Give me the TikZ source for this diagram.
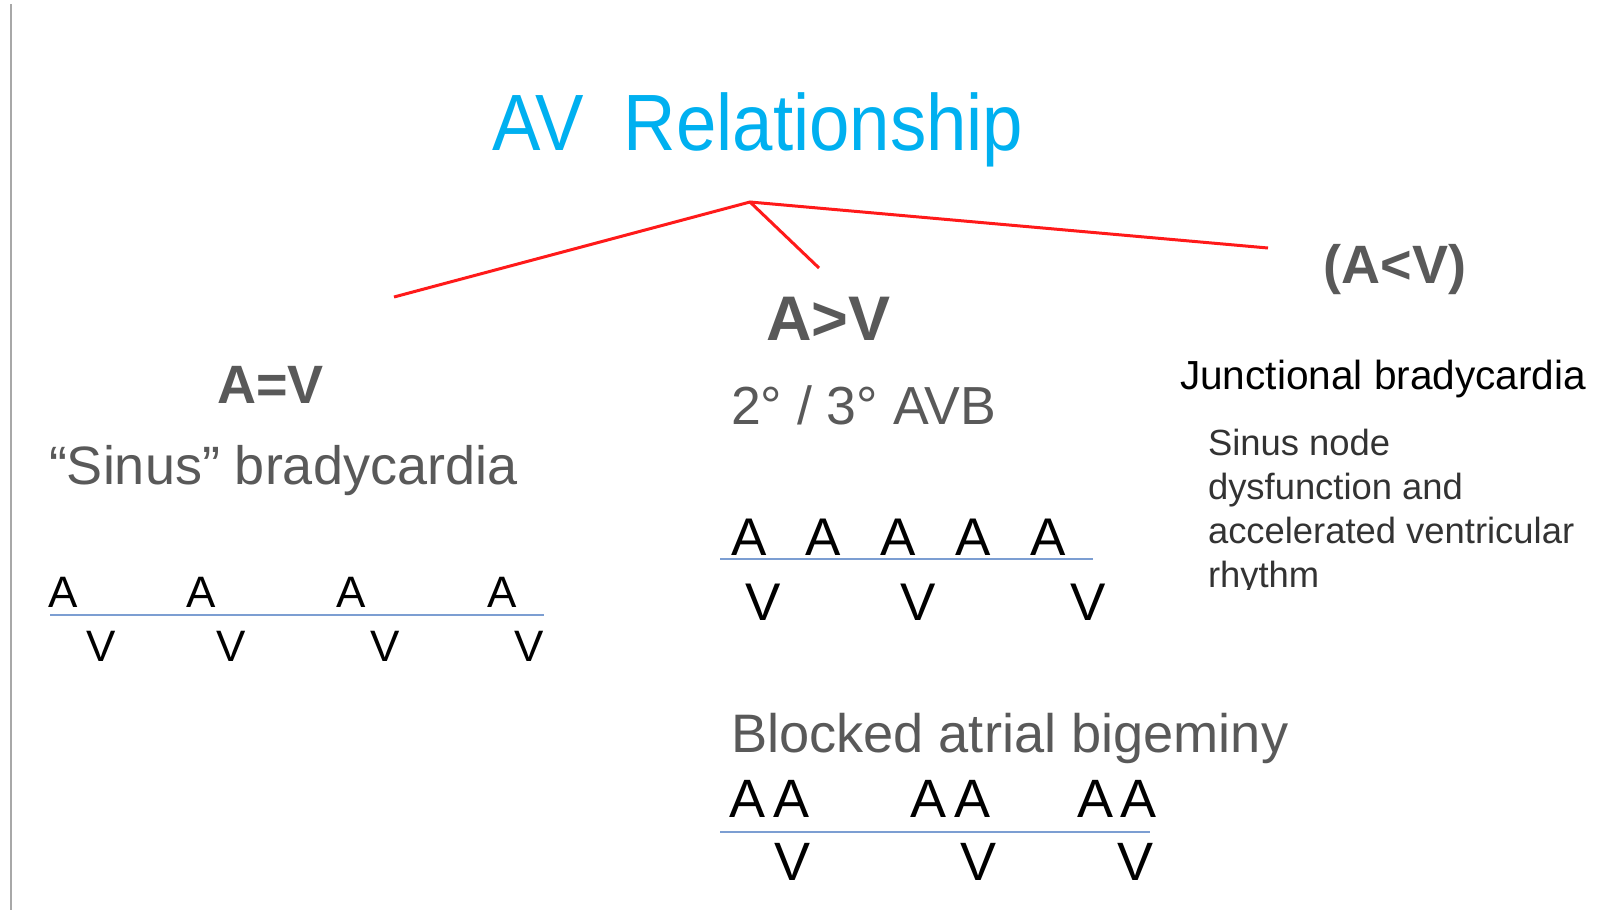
\documentclass[tikz,border=0pt]{standalone}
\usepackage{fontspec}
\setmainfont{Liberation Sans}
\definecolor{titleblue}{HTML}{00B0F0}
\definecolor{textgray}{HTML}{595959}
\definecolor{notegray}{HTML}{333333}
\definecolor{axisblue}{HTML}{7C9ED2}
\definecolor{treered}{HTML}{FF1A1A}
\definecolor{framegray}{HTML}{A8A8A8}
\tikzset{
  lbl/.style={inner sep=0pt, outer sep=0pt},
  heading/.style={lbl, anchor=base, text=textgray, font=\bfseries\fontsize{27pt}{31pt}\selectfont},
  rhythmname/.style={lbl, anchor=base west, text=textgray},
  beat/.style={lbl, anchor=base, text=black},
  branch/.style={draw=treered, line width=1.5pt},
  axis/.style={draw=axisblue, line width=1pt}
}
\begin{document}
\begin{tikzpicture}[x=0.5pt, y=-0.5pt]
\useasboundingbox (0,0) rectangle (1623,910);
\fill[white] (0,0) rectangle (1623,910);
% left frame edge
\draw[framegray, line width=1pt] (11,4) -- (11,910);

% title
\node[lbl, anchor=base west, text=titleblue, yscale=1.1,
      font=\fontsize{36.3pt}{40pt}\selectfont] (title) at (492,150) {AV\ \ Relationship};

% tree
\coordinate (apex) at (750,202);
\coordinate (eqend) at (394,297);
\coordinate (gtend) at (819,268);
\coordinate (ltend) at (1268,248);
\draw[branch] (eqend) -- (apex) -- (ltend);
\draw[branch] (apex) -- (gtend);

% branch headings
\node[heading] (eq) at (270.5,403) {A=V};
\node[heading, font=\bfseries\fontsize{31.5pt}{36pt}\selectfont] (gt) at (828.5,340) {A>V};
\node[heading] (lt) at (1395,283) {(A<V)};

% A = V branch
\node[rhythmname, font=\fontsize{27pt}{32pt}\selectfont] (sinus) at (49,484) {“Sinus” bradycardia};
\begin{scope}[every node/.style={beat, font=\fontsize{22pt}{26pt}\selectfont}]
  \node (l1a) at (63,607) {A};
  \node (l2a) at (201,607) {A};
  \node (l3a) at (351,607) {A};
  \node (l4a) at (502,607) {A};
  \node (l1v) at (101,661) {V};
  \node (l2v) at (231,661) {V};
  \node (l3v) at (385,661) {V};
  \node (l4v) at (529,661) {V};
\end{scope}
\coordinate (lstart) at (50,615);
\coordinate (lend) at (544,615);
\draw[axis] (lstart) -- (lend);

% A > V branch: 2nd / 3rd degree block
\node[rhythmname, font=\fontsize{26.8pt}{30pt}\selectfont] (avb) at (731,424) {2°\ /\ 3°\ AVB};
\begin{scope}[every node/.style={beat, font=\fontsize{26.5pt}{30pt}\selectfont}]
  \node (m1a) at (749,555) {A};
  \node (m2a) at (823,555) {A};
  \node (m3a) at (898,555) {A};
  \node (m4a) at (973,555) {A};
  \node (m5a) at (1048,555) {A};
  \node (m1v) at (763,620) {V};
  \node (m2v) at (918,620) {V};
  \node (m3v) at (1088,620) {V};
\end{scope}
\coordinate (mstart) at (720,559);
\coordinate (mend) at (1093,559);
\draw[axis] (mstart) -- (mend);

% A > V branch: blocked atrial bigeminy
\node[rhythmname, font=\fontsize{27.1pt}{32pt}\selectfont] (bigem) at (731,752) {Blocked atrial bigeminy};
\begin{scope}[every node/.style={beat, font=\fontsize{27pt}{32pt}\selectfont}]
  \node (b1a) at (748,817) {A};
  \node (b2a) at (792,817) {A};
  \node (b3a) at (928,817) {A};
  \node (b4a) at (972,817) {A};
  \node (b5a) at (1095,817) {A};
  \node (b6a) at (1138,817) {A};
  \node (b1v) at (793,880) {V};
  \node (b2v) at (978,880) {V};
  \node (b3v) at (1135,880) {V};
\end{scope}
\coordinate (bstart) at (720,832);
\coordinate (bend) at (1150,832);
\draw[axis] (bstart) -- (bend);

% A < V branch
\node[lbl, anchor=base west, text=black, font=\fontsize{20.3pt}{24pt}\selectfont] (junc) at (1180,389) {Junctional bradycardia};
\begin{scope}
  % the last line is cut at its baseline
  \clip (1190,410) rectangle (1610,589);
  \node[lbl, anchor=base west, text=notegray, align=left,
        font=\fontsize{18.2pt}{22pt}\selectfont] (sinode) at (1208,587)
        {Sinus node\\dysfunction and\\accelerated ventricular\\rhythm};
\end{scope}
\end{tikzpicture}
\end{document}
